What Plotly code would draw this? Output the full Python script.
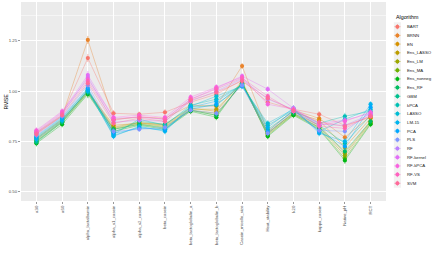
import math
import plotly.graph_objects as go

traits = ["a30", "a60", "alpha_lactalbumin", "alpha_s1_casein", "alpha_s2_casein",
          "beta_casein", "beta_lactoglobulin_a", "beta_lactoglobulin_b",
          "Casein_micelle_size", "Heat_stability", "k20", "kappa_casein",
          "Native_pH", "RCT"]

algorithms = ["BART", "BRNN", "EN", "Ens_LASSO", "Ens_LM", "Ens_MA", "Ens_nonneg",
              "Ens_RF", "GBM", "kPCA", "LASSO", "LM-15", "PCA", "PLS", "RF",
              "RF-kernel", "RF-kPCA", "RF-VS", "SVM"]

# RMSE per algorithm, in trait order
rmse_BART       = [0.795, 0.880, 1.165, 0.890, 0.885, 0.895, 0.945, 0.985, 1.055, 0.945, 0.910, 0.885, 0.830, 0.870]
rmse_BRNN       = [0.790, 0.875, 1.255, 0.860, 0.870, 0.865, 0.930, 0.925, 1.125, 0.800, 0.905, 0.865, 0.770, 0.875]
rmse_EN         = [0.765, 0.860, 1.000, 0.830, 0.840, 0.835, 0.915, 0.900, 1.050, 0.790, 0.895, 0.855, 0.720, 0.865]
rmse_Ens_LASSO  = [0.760, 0.855, 1.000, 0.820, 0.845, 0.830, 0.910, 0.910, 1.040, 0.795, 0.890, 0.830, 0.690, 0.850]
rmse_Ens_LM     = [0.755, 0.850, 0.995, 0.815, 0.840, 0.825, 0.905, 0.890, 1.035, 0.785, 0.885, 0.820, 0.680, 0.845]
rmse_Ens_MA     = [0.750, 0.845, 0.990, 0.810, 0.835, 0.820, 0.905, 0.880, 1.040, 0.780, 0.885, 0.815, 0.665, 0.840]
rmse_Ens_nonneg = [0.740, 0.835, 0.985, 0.800, 0.830, 0.810, 0.900, 0.870, 1.045, 0.775, 0.880, 0.810, 0.655, 0.835]
rmse_Ens_RF     = [0.745, 0.845, 0.995, 0.810, 0.835, 0.815, 0.905, 0.880, 1.040, 0.790, 0.890, 0.820, 0.700, 0.850]
rmse_GBM        = [0.750, 0.850, 1.005, 0.795, 0.850, 0.835, 0.920, 0.930, 1.035, 0.810, 0.900, 0.830, 0.740, 0.880]
rmse_kPCA       = [0.770, 0.865, 1.010, 0.785, 0.860, 0.830, 0.930, 0.960, 1.030, 0.830, 0.905, 0.840, 0.875, 0.900]
rmse_LASSO      = [0.765, 0.860, 1.000, 0.780, 0.820, 0.805, 0.925, 0.975, 1.025, 0.840, 0.910, 0.800, 0.860, 0.910]
rmse_LM15       = [0.760, 0.855, 1.005, 0.775, 0.825, 0.800, 0.920, 0.950, 1.030, 0.820, 0.915, 0.790, 0.750, 0.935]
rmse_PCA        = [0.775, 0.870, 1.015, 0.790, 0.815, 0.810, 0.910, 0.935, 1.025, 0.800, 0.905, 0.800, 0.725, 0.920]
rmse_PLS        = [0.780, 0.875, 1.030, 0.800, 0.810, 0.820, 0.905, 0.890, 1.030, 0.790, 0.900, 0.805, 0.800, 0.895]
rmse_RF         = [0.790, 0.885, 1.070, 0.845, 0.855, 0.850, 0.950, 1.000, 1.060, 0.960, 0.910, 0.835, 0.830, 0.885]
rmse_RF_kernel  = [0.800, 0.895, 1.080, 0.865, 0.870, 0.860, 0.960, 1.015, 1.075, 1.010, 0.915, 0.840, 0.855, 0.890]
rmse_RF_kPCA    = [0.805, 0.900, 1.060, 0.870, 0.880, 0.870, 0.970, 1.020, 1.070, 0.935, 0.910, 0.830, 0.850, 0.895]
rmse_RF_VS      = [0.795, 0.890, 1.050, 0.855, 0.875, 0.860, 0.960, 1.010, 1.065, 0.975, 0.900, 0.825, 0.815, 0.880]
rmse_SVM        = [0.785, 0.880, 1.040, 0.840, 0.865, 0.850, 0.955, 0.995, 1.050, 0.965, 0.905, 0.845, 0.825, 0.875]

rmse_values = [rmse_BART, rmse_BRNN, rmse_EN, rmse_Ens_LASSO, rmse_Ens_LM, rmse_Ens_MA,
               rmse_Ens_nonneg, rmse_Ens_RF, rmse_GBM, rmse_kPCA, rmse_LASSO, rmse_LM15,
               rmse_PCA, rmse_PLS, rmse_RF, rmse_RF_kernel, rmse_RF_kPCA, rmse_RF_VS, rmse_SVM]

# error bar half-width per trait
rmse_err = [0.015, 0.015, 0.02, 0.015, 0.013, 0.015, 0.015, 0.015, 0.015, 0.015, 0.015, 0.015, 0.017, 0.015]


def hcl_rgb(h, c=100.0, l=65.0):
    Xn, Yn, Zn = 95.047, 100.0, 108.883
    hr = math.radians(h)
    U, V = c * math.cos(hr), c * math.sin(hr)
    Y = Yn * ((l + 16) / 116) ** 3 if l > 7.999592 else Yn * l / 903.3
    den = Xn + 15 * Yn + 3 * Zn
    un, vn = 4 * Xn / den, 9 * Yn / den
    u = U / (13 * l) + un
    v = V / (13 * l) + vn
    X = 9.0 * Y * u / (4 * v)
    Z = -X / 3 - 5 * Y + 3 * Y / v
    X, Y, Z = X / 100, Y / 100, Z / 100
    r = 3.240479 * X - 1.537150 * Y - 0.498535 * Z
    g = -0.969256 * X + 1.875992 * Y + 0.041556 * Z
    b = 0.055648 * X - 0.204043 * Y + 1.057311 * Z

    def gam(t):
        t = 1.055 * t ** (1 / 2.4) - 0.055 if t > 0.00304 else 12.92 * t
        return int(round(min(max(t, 0), 1) * 255))
    return gam(r), gam(g), gam(b)


n = len(algorithms)
colors = [hcl_rgb(15 + i * 360.0 / n) for i in range(n)]

def rgba(c, a):
    return f"rgba({c[0]},{c[1]},{c[2]},{a})"

fig = go.Figure()

# main series
for name, vals, col in zip(algorithms, rmse_values, colors):
    fig.add_trace(go.Scatter(
        x=traits, y=vals, mode="lines+markers", name=name, showlegend=False,
        line=dict(color=rgba(col, 0.45), width=0.8),
        marker=dict(color=rgba(col, 1), size=4.2, symbol="circle"),
        error_y=dict(type="data", array=rmse_err, color=rgba(col, 0.55),
                     thickness=1.0, width=0),
        xaxis="x", yaxis="y",
    ))

W, H = 436, 254
ml, mr, mt, mb = 21, 0, 2, 53
pw = W - ml - mr

# custom legend (pixel coordinates on an auxiliary axis)
L0, STEP = 26.7, 8.7
KX = 397.4
for i, (name, col) in enumerate(zip(algorithms, colors)):
    yy = L0 + i * STEP
    fig.add_trace(go.Scatter(
        x=[KX], y=[yy], mode="markers", showlegend=False, hoverinfo="skip",
        marker=dict(color=rgba(col, 1), size=4, symbol="circle"),
        error_y=dict(type="constant", value=2.6, color=rgba(col, 0.6), thickness=1, width=0),
        error_x=dict(type="constant", value=3.4, color=rgba(col, 0.45), thickness=0.8, width=0),
        xaxis="x2", yaxis="y2",
    ))
    fig.add_annotation(x=404.5, y=yy, xref="x2", yref="y2", text=name, showarrow=False,
                       xanchor="left", yanchor="middle",
                       font=dict(size=4.3, color="#1a1a1a", family="Liberation Sans"))

fig.add_annotation(x=393.5, y=17.2, xref="x2", yref="y2", text="Algorithm", showarrow=False,
                   xanchor="left", yanchor="middle",
                   font=dict(size=5.3, color="#000000", family="Liberation Sans"))

fig.add_shape(type="rect", xref="x2", yref="y2", x0=393.8, x1=401.0,
              y0=L0 - STEP / 2, y1=L0 + (n - 0.5) * STEP,
              fillcolor="#F2F2F2", line=dict(width=0), layer="below")

# panel background
fig.add_shape(type="rect", xref="x domain", yref="y domain", x0=0, x1=1, y0=0, y1=1,
              fillcolor="#EBEBEB", line=dict(width=0), layer="below")

# axis titles
fig.add_annotation(x=0.5, y=248, xref="x domain", yref="y2", text="Trait", showarrow=False,
                   xanchor="center", yanchor="middle",
                   font=dict(size=5.3, color="#000000", family="Liberation Sans"))
fig.add_annotation(x=-16 / pw, y=0.5, xref="paper", yref="y domain", text="RMSE",
                   showarrow=False, textangle=-90, xanchor="center", yanchor="middle",
                   font=dict(size=5.3, color="#000000", family="Liberation Sans"))

fig.update_layout(
    width=W, height=H,
    margin=dict(l=ml, r=mr, t=mt, b=mb, pad=0),
    paper_bgcolor="white", plot_bgcolor="white",
    font=dict(family="Liberation Sans", size=4.3, color="#4D4D4D"),
    showlegend=False,
    hovermode=False,
    xaxis=dict(
        domain=[0, (386 - ml) / pw], type="category", range=[-0.6, 13.6],
        showgrid=True, gridcolor="white", gridwidth=1, zeroline=False,
        ticks="outside", ticklen=2, tickwidth=0.5, tickcolor="#333333",
        tickangle=-90, tickfont=dict(size=4.3, color="#4D4D4D"), showline=False,
        categoryorder="array", categoryarray=traits,
    ),
    yaxis=dict(
        range=[0.453, 1.444], tick0=0.5, dtick=0.25, tickformat=".2f",
        showgrid=True, gridcolor="white", gridwidth=1, zeroline=False,
        ticks="outside", ticklen=2, tickwidth=0.5, tickcolor="#333333",
        tickfont=dict(size=4.3, color="#4D4D4D"), showline=False,
        minor=dict(dtick=0.125, tick0=0.5, showgrid=True, gridcolor="white", gridwidth=0.5),
    ),
    xaxis2=dict(domain=[(388 - ml) / pw, 1], range=[388, 436], visible=False,
                fixedrange=True),
    yaxis2=dict(anchor="x2", range=[H - mb, mt], visible=False, domain=[0, 1],
                fixedrange=True),
)

fig.write_html("out.html",
               config={"displayModeBar": False, "staticPlot": True},
               post_script="document.body.style.margin='0';document.body.style.overflow='hidden';")
